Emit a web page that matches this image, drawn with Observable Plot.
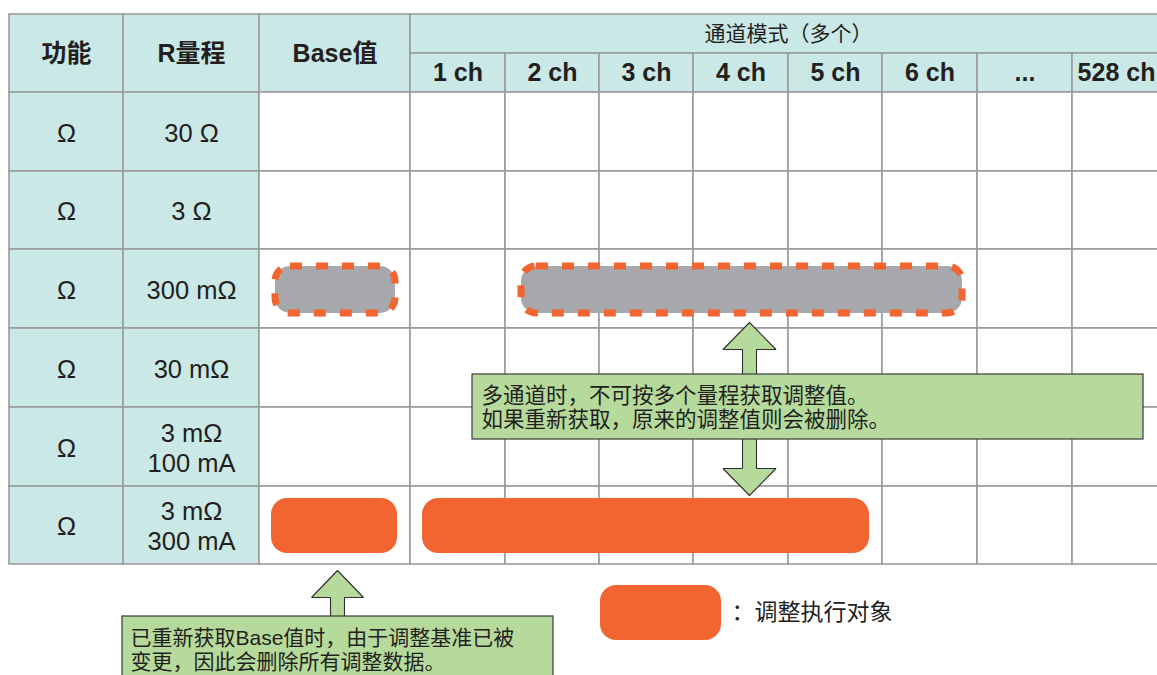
<!DOCTYPE html>
<html><head><meta charset="utf-8">
<script src="https://cdn.jsdelivr.net/npm/d3@7"></script>
<script src="https://cdn.jsdelivr.net/npm/@observablehq/plot@0.6"></script>
<style>html,body{margin:0;padding:0;background:#fff;overflow:hidden}</style>
</head><body><div id="chart"></div>
<script>
// ---- content ----
const headers = ["功能", "R量程", "Base值"];
const groupHeader = "通道模式（多个）";
const channels = ["1 ch", "2 ch", "3 ch", "4 ch", "5 ch", "6 ch", "...", "528 ch"];
const functions = ["Ω", "Ω", "Ω", "Ω", "Ω", "Ω"];
const ranges = ["30 Ω", "3 Ω", "300 mΩ", "30 mΩ", "3 mΩ\n100 mA", "3 mΩ\n300 mA"];
const deletedSpans = [
  {range: "300 mΩ", from: "Base值", to: "Base值"},
  {range: "300 mΩ", from: "2 ch", to: "6 ch"}
];
const adjustSpans = [
  {range: "3 mΩ\n300 mA", from: "Base值", to: "Base值"},
  {range: "3 mΩ\n300 mA", from: "1 ch", to: "5 ch"}
];
const noteMulti = "多通道时，不可按多个量程获取调整值。\n如果重新获取，原来的调整值则会被删除。";
const noteBase = "已重新获取Base值时，由于调整基准已被\n变更，因此会删除所有调整数据。";
const legendLabel = "：调整执行对象";

// ---- layout ----
const TEAL = "#cae8e5", GRID = "#9b9b9b", INK = "#231f20";
const ORANGE = "#f26531", GRAY = "#a7a8ab", GREEN = "#b6da9c";
const FONT = "'Liberation Sans', 'Noto Sans CJK SC', sans-serif";
const columns = [...headers, ...channels];
const colEdges = [9, 123, 259, 410, 505, 599, 693, 788, 882, 977, 1072, 1160];
const rowEdges = [14, 53, 92, 171, 249, 328, 407, 486, 564, 675];
const colIdx = d3.range(colEdges.length);
const rowIdx = d3.range(rowEdges.length);
const X = d3.scaleLinear(colIdx, colEdges);
const Y = d3.scaleLinear(rowIdx, rowEdges);
const px = v => X.invert(v), py = v => Y.invert(v);

const cells = [];
headers.forEach((h, i) => cells.push({x1: i, x2: i + 1, y1: 0, y2: 2, fill: TEAL}));
cells.push({x1: headers.length, x2: columns.length, y1: 0, y2: 1, fill: TEAL});
channels.forEach((c, i) => cells.push({x1: headers.length + i, x2: headers.length + i + 1, y1: 1, y2: 2, fill: TEAL}));
ranges.forEach((r, ri) => columns.forEach((c, ci) =>
  cells.push({x1: ci, x2: ci + 1, y1: ri + 2, y2: ri + 3, fill: ci < 2 ? TEAL : "#ffffff"})));

const headerText = headers.map((h, i) => ({x: i + 0.5, y: 1, text: h}));
const chText = channels.map((c, i) => ({x: headers.length + i + 0.5, y: 1.5, text: c}));
const groupText = [{x: px(788), y: 0.5, text: groupHeader}];
const bodyText = [
  ...functions.map((f, i) => ({x: 0.5, y: i + 2.5, text: f})),
  ...ranges.map((r, i) => ({x: 1.5, y: i + 2.5, text: r}))
];

const span = s => ({
  x1: columns.indexOf(s.from), x2: columns.indexOf(s.to) + 1,
  y1: ranges.indexOf(s.range) + 2, y2: ranges.indexOf(s.range) + 3
});

function blockArrow(cx, tip, headBase, end, head = 26.5, shaft = 7) {
  return [[cx, tip], [cx + head, headBase], [cx + shaft, headBase], [cx + shaft, end],
          [cx - shaft, end], [cx - shaft, headBase], [cx - head, headBase], [cx, tip]]
    .map(([x, y]) => ({x: px(x), y: py(y)}));
}
const arrowStyle = {x: "x", y: "y", fill: GREEN, stroke: "#2e2e2e", strokeWidth: 1.1, strokeLinejoin: "miter", curve: "linear"};

const chart = Plot.plot({
  width: 1157, height: 675, margin: 0,
  x: {type: "linear", domain: colIdx, range: colEdges, axis: null},
  y: {type: "linear", domain: rowIdx, range: rowEdges, axis: null},
  style: {fontFamily: FONT, background: "#fff", color: INK},
  marks: [
    Plot.rect(cells, {x1: "x1", x2: "x2", y1: "y1", y2: "y2", fill: "fill", stroke: GRID, strokeWidth: 1.6}),
    Plot.rect(deletedSpans.map(span), {x1: "x1", x2: "x2", y1: "y1", y2: "y2", fill: GRAY,
      insetLeft: 16, insetRight: 15, insetTop: 17, insetBottom: 15, rx: 15, ry: 15,
      stroke: ORANGE, strokeWidth: 7, strokeDasharray: "12,14"}),
    Plot.rect(adjustSpans.map(span), {x1: "x1", x2: "x2", y1: "y1", y2: "y2", fill: ORANGE,
      insetLeft: 12, insetRight: 13, insetTop: 12, insetBottom: 11, rx: 16, ry: 16}),
    Plot.line(blockArrow(749, 322, 349, 380), arrowStyle),
    Plot.line(blockArrow(749, 495, 468, 433), arrowStyle),
    Plot.line(blockArrow(337, 570, 597, 622, 26, 7), arrowStyle),
    Plot.rect([{x1: px(472), x2: px(1143), y1: py(374), y2: py(439)}],
      {x1: "x1", x2: "x2", y1: "y1", y2: "y2", fill: GREEN, stroke: "#3a3a3a", strokeWidth: 1.2}),
    Plot.rect([{x1: px(122), x2: px(553), y1: py(616), y2: py(700)}],
      {x1: "x1", x2: "x2", y1: "y1", y2: "y2", fill: GREEN, stroke: "#3a3a3a", strokeWidth: 1.2}),
    Plot.rect([{x1: px(600), x2: px(721), y1: py(585), y2: py(640)}],
      {x1: "x1", x2: "x2", y1: "y1", y2: "y2", fill: ORANGE, rx: 16, ry: 16}),
    Plot.text(headerText, {x: "x", y: "y", text: "text", fontSize: 25, fontWeight: "bold", fill: INK}),
    Plot.text(chText, {x: "x", y: "y", text: "text", fontSize: 25, fontWeight: "bold", fill: INK}),
    Plot.text(groupText, {x: "x", y: "y", text: "text", fontSize: 21, fill: INK}),
    Plot.text(bodyText, {x: "x", y: "y", text: "text", fontSize: 25.5, fill: INK, lineHeight: 1.18}),
    Plot.text([{x: px(481), y: py(406.5), text: noteMulti}],
      {x: "x", y: "y", text: "text", fontSize: 21.5, fill: INK, textAnchor: "start", lineHeight: 1.16}),
    Plot.text([{x: px(130), y: py(648.5), text: noteBase}],
      {x: "x", y: "y", text: "text", fontSize: 21, fill: INK, textAnchor: "start", lineHeight: 1.15}),
    Plot.text([{x: px(731), y: py(612), text: legendLabel}],
      {x: "x", y: "y", text: "text", fontSize: 23, fill: INK, textAnchor: "start"})
  ]
});
document.getElementById("chart").append(chart);
</script>
</body></html>
